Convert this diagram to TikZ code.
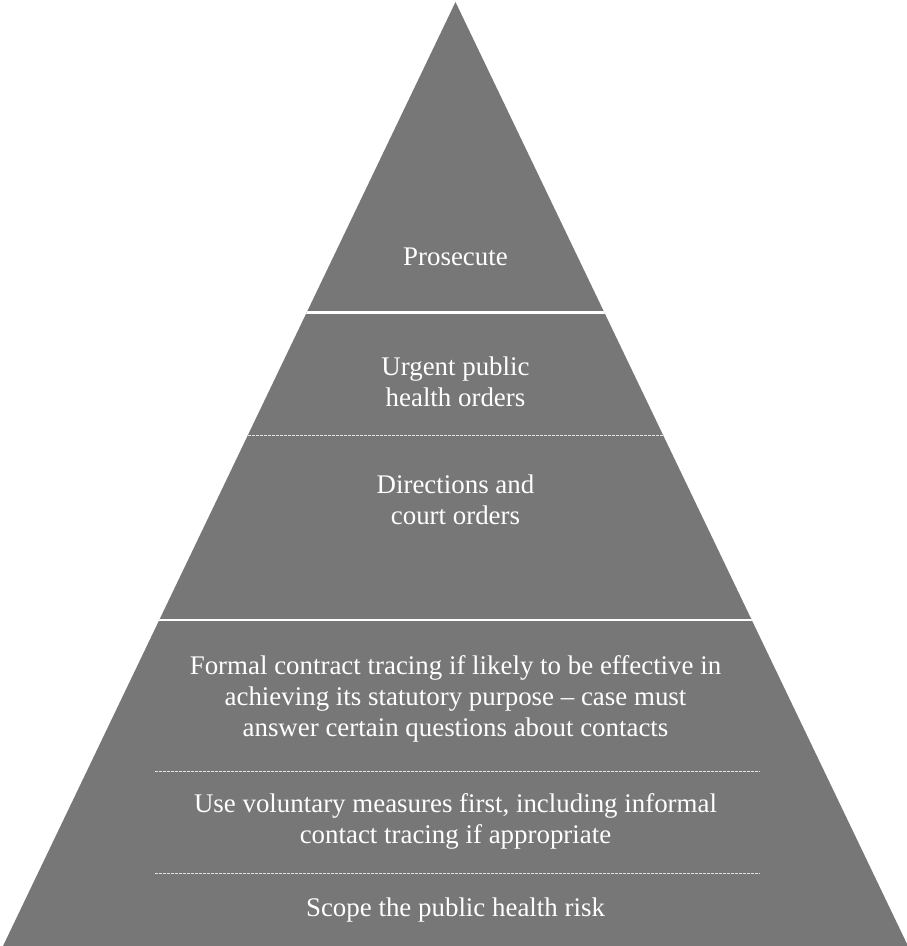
\documentclass[tikz,border=0pt]{standalone}
\usepackage{fontspec}
\setmainfont{Liberation Serif}
\definecolor{pyrgray}{HTML}{777777}
\definecolor{dashwhite}{HTML}{E4E4E4}
\tikzset{
  lbl/.style={text=white, align=center, font=\fontsize{26.9}{31}\selectfont, inner sep=0pt},
  solidsep/.style={draw=white, line width=2.8pt},
  dotsep/.style={draw=dashwhite, line width=0.9pt, dash pattern=on 2.6pt off 1.4pt}
}
\begin{document}
\begin{tikzpicture}[x=1pt,y=-1pt]
\useasboundingbox (0,0) rectangle (907,946);
\coordinate (apex) at (455.5,2);
\coordinate (bl) at (3,946);
\coordinate (br) at (908,946);
\fill[pyrgray] (apex) -- (bl) -- (br) -- cycle;
\begin{scope}
  \clip (apex) -- (bl) -- (br) -- cycle;
  \draw[solidsep] (0,312.5) -- (907,312.5);
  \draw[solidsep] (0,620) -- (907,620);
  \draw[dotsep] (0,435.5) -- (907,435.5);
\end{scope}
\draw[dotsep] (155,771.5) -- (760,771.5);
\draw[dotsep] (155,873) -- (760,873);
\node[lbl] (prosecute) at (455.5,256.5) {Prosecute};
\node[lbl] (urgent) at (455.5,381.5) {Urgent public\\health orders};
\node[lbl] (directions) at (455.5,499.5) {Directions and\\court orders};
\node[lbl] (formal) at (455.5,699) {Formal contract tracing if likely to be effective in\\achieving its statutory purpose -- case must\\answer certain questions about contacts};
\node[lbl] (voluntary) at (455.5,821.5) {Use voluntary measures first, including informal\\contact tracing if appropriate};
\node[lbl] (scope) at (455.5,910.5) {Scope the public health risk};
\end{tikzpicture}
\end{document}
